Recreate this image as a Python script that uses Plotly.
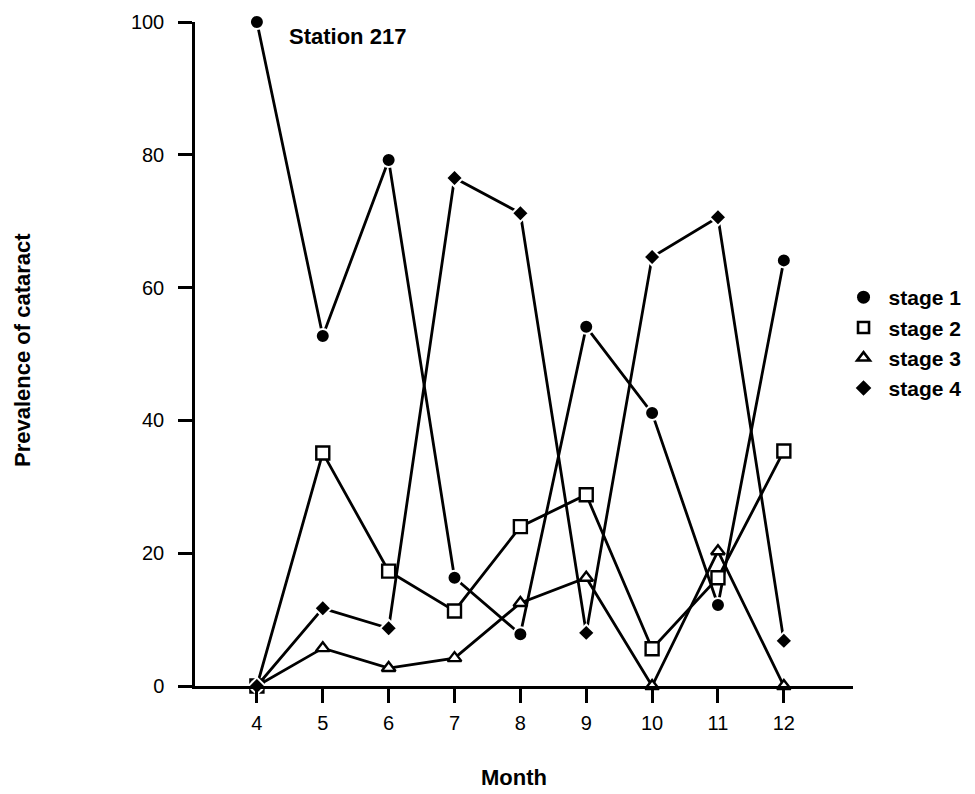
import plotly.graph_objects as go

months = [4, 5, 6, 7, 8, 9, 10, 11, 12]
stage1 = [100, 52.7, 79.2, 16.3, 7.8, 54.1, 41.1, 12.2, 64.1]
stage2 = [0, 35.1, 17.3, 11.3, 24.0, 28.8, 5.6, 16.3, 35.4]
stage3 = [0, 5.7, 2.7, 4.2, 12.5, 16.3, 0, 20.3, 0]
stage4 = [0, 11.7, 8.7, 76.5, 71.2, 8.0, 64.6, 70.6, 6.8]

series = [
    ("stage 1", stage1, dict(symbol="circle", size=14, color="black", line=dict(color="white", width=2))),
    ("stage 2", stage2, dict(symbol="square", size=13, color="white", line=dict(color="black", width=2.4))),
    ("stage 3", stage3, dict(symbol="triangle-up", size=12, color="white", line=dict(color="black", width=2.4))),
    ("stage 4", stage4, dict(symbol="diamond", size=13, color="black", line=dict(color="white", width=2))),
]
legend_markers = [
    dict(symbol="circle", size=13, color="black"),
    dict(symbol="square", size=11, color="white", line=dict(color="black", width=2.6)),
    dict(symbol="triangle-up", size=11, color="white", line=dict(color="black", width=2.6)),
    dict(symbol="diamond", size=12, color="black"),
]

fig = go.Figure()
for name, vals, mk in series:
    fig.add_trace(go.Scatter(x=months, y=vals, mode="lines+markers", name=name,
                             line=dict(color="black", width=2.8), marker=mk,
                             cliponaxis=False, showlegend=False))
for (name, _, _), mk in zip(series, legend_markers):
    fig.add_trace(go.Scatter(x=[None], y=[None], mode="markers", name=name, marker=mk))

tickfont = dict(family="Liberation Sans, Arial", size=20, color="black")
bold = dict(family="Liberation Sans, Arial", size=22, color="black", weight="bold")

fig.update_layout(
    width=967, height=786,
    margin=dict(l=187, r=122, t=14, b=108, autoexpand=False),
    plot_bgcolor="white", paper_bgcolor="white",
    font=dict(family="Liberation Sans, Arial", color="black"),
    xaxis=dict(range=[3.06, 13.05], tickvals=months, ticks="outside", ticklen=14, tickwidth=2.5,
               tickcolor="black", showline=True, linecolor="black", linewidth=2.5, automargin=False,
               showgrid=False, zeroline=False, tickfont=tickfont, ticklabelstandoff=3),
    yaxis=dict(range=[0, 100], tickvals=[0, 20, 40, 60, 80, 100], ticks="outside", ticklen=14,
               tickwidth=2.5, tickcolor="black", showline=True, linecolor="black", linewidth=2.5,
               automargin=False,
               showgrid=False, zeroline=False, tickfont=tickfont, ticklabelstandoff=10),
    legend=dict(x=0.978, xanchor="left", y=0.616, yanchor="top",
                font=dict(family="Liberation Sans, Arial", size=21, weight="bold"),
                bgcolor="rgba(0,0,0,0)", itemwidth=40, tracegroupgap=0),
    annotations=[
        dict(text="Station 217", x=0.1398, xref="paper", y=0.978, yref="paper",
             xanchor="left", yanchor="middle", showarrow=False, font=bold),
        dict(text="Month", x=0.485, xref="paper", y=0, yref="paper", yshift=-91,
             xanchor="center", yanchor="middle", showarrow=False, font=bold),
        dict(text="Prevalence of cataract", x=0, xref="paper", xshift=-173, y=0.5, yref="paper",
             yshift=4, xanchor="center", yanchor="middle", textangle=-90, showarrow=False, font=bold),
    ],
)

fig.write_html("out.html")
